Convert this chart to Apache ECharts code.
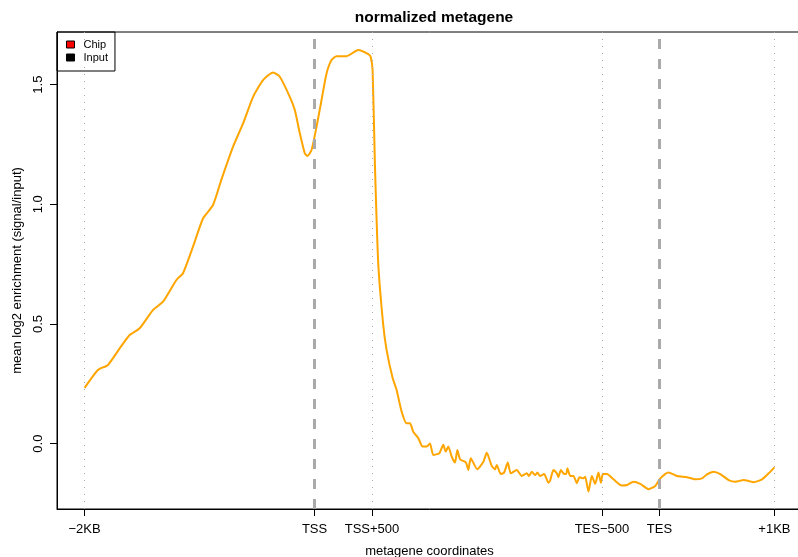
<!DOCTYPE html>
<html><head><meta charset="utf-8">
<script src="https://cdn.jsdelivr.net/npm/echarts@6/dist/echarts.min.js"></script>
<style>html,body{margin:0;padding:0;background:#fff;overflow:hidden;width:798px;height:557px}#c{width:802px;height:557px}</style>
</head><body><div id="c"></div>
<script>
// metagene position (scaled units: -2KB=0, TSS=40, TSS+500=50, TES-500=90, TES=100, +1KB=120)
const xPos = [0, 2.32, 4.06, 6.10, 7.84, 9.58, 11.89, 13.64, 15.97, 17.12, 18.86, 20.60, 22.34, 23.77,
  25.83, 27.57, 29.31, 31.05, 32.79, 33.96, 35.70, 36.57, 37.44, 38.31, 38.78, 39.48, 40.35, 41.22, 42.09,
  42.96, 43.83, 45.58, 47.60, 49.34, 49.76, 50.10, 50.50, 51.08, 51.95, 52.54, 53.59, 54.28, 55.15, 56.03,
  56.60, 57.17, 58.05, 58.81, 59.51, 60.08, 60.66, 61.70, 62.40, 62.82, 63.27, 63.86, 64.44, 64.84, 65.31,
  66.35, 66.75, 67.17, 68.32, 69.37, 69.96, 70.83, 71.40, 71.70, 72.40, 72.97, 73.62, 74.14, 75.18, 76.05,
  76.92, 77.32, 77.79, 78.37, 78.77, 79.24, 79.94, 80.69, 80.98, 81.56, 82.15, 82.43, 82.85, 83.30, 83.77,
  84.00, 84.47, 85.04, 85.63, 86.09, 86.78, 87.08, 87.65, 88.24, 88.82, 89.39, 89.81, 90.16, 90.86, 92.01,
  93.47, 94.34, 95.49, 96.66, 98.10, 99.27, 100.14, 101.58, 103.05, 104.79, 106.24, 107.40, 108.27, 109.42,
  110.59, 112.03, 113.20, 114.65, 115.52, 116.39, 117.85, 119.00, 120.0];
// mean log2 enrichment (signal/input)
const enrichment = [0.233, 0.308, 0.329, 0.398, 0.454, 0.482, 0.558, 0.593, 0.684, 0.712, 0.823, 0.941, 0.997, 1.101,
  1.241, 1.338, 1.449, 1.519, 1.551, 1.533, 1.449, 1.394, 1.297, 1.213, 1.202, 1.227, 1.324, 1.436, 1.547,
  1.603, 1.619, 1.619, 1.645, 1.628, 1.617, 1.561, 1.172, 0.755, 0.496, 0.391, 0.274, 0.224, 0.134, 0.085,
  0.085, 0.050, 0.023, -0.012, -0.012, 0.001, -0.047, -0.040, -0.005, -0.033, -0.012, -0.054, -0.079, -0.026, -0.065,
  -0.079, -0.110, -0.061, -0.107, -0.076, -0.038, -0.093, -0.107, -0.089, -0.127, -0.121, -0.079, -0.124, -0.110, -0.135,
  -0.124, -0.135, -0.117, -0.131, -0.121, -0.135, -0.127, -0.163, -0.155, -0.110, -0.124, -0.140, -0.110, -0.124, -0.127,
  -0.103, -0.135, -0.135, -0.165, -0.140, -0.145, -0.138, -0.200, -0.135, -0.168, -0.121, -0.163, -0.127, -0.127, -0.149,
  -0.175, -0.173, -0.159, -0.168, -0.190, -0.177, -0.145, -0.120, -0.135, -0.140, -0.149, -0.145, -0.128, -0.117,
  -0.127, -0.152, -0.159, -0.152, -0.156, -0.161, -0.149, -0.124, -0.099];

const tickPos = [0, 40, 50, 90, 100, 120];
const tickLabels = ['\u22122KB', 'TSS', 'TSS+500', 'TES\u2212500', 'TES', '+1KB'];
const yTicks = [0, 0.5, 1.0, 1.5];
const dottedLines = [0, 50, 90, 120];
const dashedLines = [40, 100];
const legendNames = ['Chip', 'Input'];
const legendColors = ['#FF0000', '#000000'];

const FONT = 'Liberation Sans, Arial, Helvetica, sans-serif';
const chart = echarts.init(document.getElementById('c'), null, {renderer: 'canvas'});

const marks = dottedLines.map(v => ({xAxis: v, lineStyle: {color: '#a8a8a8', width: 1, type: [1, 6]}}))
  .concat(dashedLines.map(v => ({xAxis: v, lineStyle: {color: '#aaaaaa', width: 3, type: [10, 10]}})));

const option = {
  animation: false,
  backgroundColor: '#ffffff',
  textStyle: {fontFamily: FONT},
  title: {
    text: 'normalized metagene', left: 429, top: 5, textAlign: 'center',
    textStyle: {fontFamily: FONT, fontWeight: 'bold', fontSize: 15.5, color: '#000'}
  },
  legend: {
    left: 57, top: 32, orient: 'vertical', selectedMode: false,
    borderColor: '#000', borderWidth: 1, padding: [6, 7, 7, 9], itemGap: 0,
    itemWidth: 8, itemHeight: 7,
    formatter: '{t|{name}}',
    textStyle: {fontFamily: FONT, fontSize: 11, color: '#000', lineHeight: 13,
      rich: {t: {fontFamily: FONT, fontSize: 11, color: '#000', lineHeight: 13, padding: [0, 0, 0, 4]}}},
    data: legendNames.map((n, i) => ({name: n, icon: 'rect',
      itemStyle: {color: legendColors[i], borderColor: '#000', borderWidth: 1}}))
  },
  grid: {left: 57, top: 32, right: 0, bottom: 48, show: true, borderColor: '#000', borderWidth: 1,
    containLabel: false, outerBoundsMode: 'none'},
  xAxis: {
    type: 'value', min: -4.8, max: 124.8,
    name: 'metagene coordinates', nameLocation: 'middle', nameGap: 36,
    nameTextStyle: {fontFamily: FONT, fontSize: 13, color: '#000'},
    axisLine: {show: true, onZero: false, lineStyle: {color: '#000', width: 1}},
    axisTick: {show: true, inside: false, length: 7, customValues: tickPos, lineStyle: {color: '#000'}},
    axisLabel: {show: true, customValues: tickPos, margin: 14, fontFamily: FONT, fontSize: 13, color: '#000',
      formatter: v => tickLabels[tickPos.indexOf(v)] || ''},
    splitLine: {show: false}
  },
  yAxis: {
    type: 'value', min: -0.273, max: 1.72,
    name: 'mean log2 enrichment (signal/input)', nameLocation: 'middle', nameGap: 32, nameRotate: 90,
    nameTextStyle: {fontFamily: FONT, fontSize: 13, color: '#000'},
    axisLine: {show: true, onZero: false, lineStyle: {color: '#000', width: 1}},
    axisTick: {show: true, inside: false, length: 7, customValues: yTicks, lineStyle: {color: '#000'}},
    axisLabel: {show: true, customValues: yTicks, rotate: 90, margin: 12, fontFamily: FONT, fontSize: 13, color: '#000',
      formatter: v => v.toFixed(1)},
    splitLine: {show: false}
  },
  series: [
    {
      type: 'line', name: 'enrichment', data: xPos.map((x, i) => [x, enrichment[i]]),
      showSymbol: false, symbol: 'none', smooth: 0.2, z: 3,
      lineStyle: {color: '#FFA500', width: 2}, itemStyle: {color: '#FFA500'},
      markLine: {silent: true, symbol: 'none', label: {show: false}, animation: false, data: marks}
    },
    {type: 'line', name: legendNames[0], data: [], itemStyle: {color: legendColors[0]}},
    {type: 'line', name: legendNames[1], data: [], itemStyle: {color: legendColors[1]}}
  ]
};
chart.setOption(option);
</script>
</body></html>
